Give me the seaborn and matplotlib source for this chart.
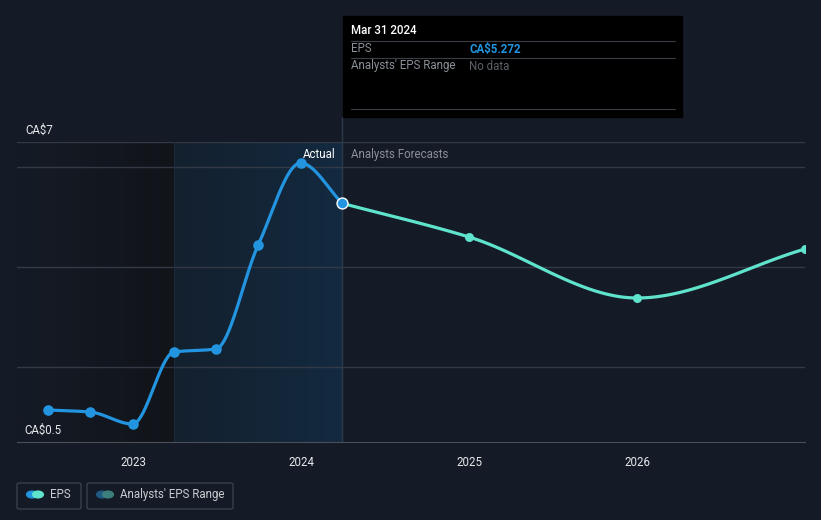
import numpy as np
import pandas as pd
import seaborn as sns
import matplotlib.pyplot as plt
import matplotlib.dates as mdates
from matplotlib.patches import Rectangle, FancyBboxPatch, Circle

# EPS actuals (quarterly) and analyst forecasts (annual)
actual_dates = ["2022-06-30", "2022-09-30", "2022-12-31", "2023-03-31",
                "2023-06-30", "2023-09-30", "2023-12-31", "2024-03-31"]
actual_eps = [1.14, 1.10, 0.86, 2.30, 2.36, 4.44, 6.08, 5.272]
forecast_dates = ["2024-03-31", "2024-12-31", "2025-12-31", "2026-12-31"]
forecast_eps = [5.272, 4.60, 3.38, 4.36]
year_ticks = ["2023", "2024", "2025", "2026"]

BG = "#151b26"
BLUE = "#2394df"
TEAL = "#5fe3cd"
GRID = "#343a45"


def monotone(x, y, n=40):
    # Fritsch-Carlson monotone cubic, just for drawing a smooth line
    x = np.asarray(x, float)
    y = np.asarray(y, float)
    h = np.diff(x)
    d = np.diff(y) / h
    m = np.zeros_like(y)
    m[0], m[-1] = d[0], d[-1]
    for i in range(1, len(y) - 1):
        if d[i - 1] * d[i] <= 0:
            m[i] = 0
        else:
            w1 = 2 * h[i] + h[i - 1]
            w2 = h[i] + 2 * h[i - 1]
            m[i] = (w1 + w2) / (w1 / d[i - 1] + w2 / d[i])
    xs, ys = [], []
    for i in range(len(h)):
        t = np.linspace(0, 1, n)
        h00 = 2 * t**3 - 3 * t**2 + 1
        h10 = t**3 - 2 * t**2 + t
        h01 = -2 * t**3 + 3 * t**2
        h11 = t**3 - t**2
        xs.append(x[i] + t * h[i])
        ys.append(h00 * y[i] + h10 * h[i] * m[i] + h01 * y[i + 1] + h11 * h[i] * m[i + 1])
    return np.concatenate(xs), np.concatenate(ys)


sns.set_style("dark")
plt.rcParams["font.family"] = ["Roboto", "DejaVu Sans"]

fig = plt.figure(figsize=(8.21, 5.2), dpi=100, facecolor=BG)
W, H = 821, 520
ax = fig.add_axes([17 / W, (H - 442) / H, (805 - 17) / W, 300 / H])
ax.set_facecolor(BG)

a_x = mdates.date2num(pd.to_datetime(actual_dates))
f_x = mdates.date2num(pd.to_datetime(forecast_dates))
x0 = mdates.date2num(pd.Timestamp("2022-04-24"))
x1 = mdates.date2num(pd.Timestamp("2026-12-31"))

# background bands (gradient via imshow)
left = np.linspace(0, 1, 64)[None, :]
ax.imshow(left, extent=[x0, a_x[3], 0.5, 6.5], aspect="auto", zorder=0,
          cmap=plt.matplotlib.colors.LinearSegmentedColormap.from_list("l", ["#151b26", "#111419"]))
ax.imshow(left, extent=[a_x[3], a_x[-1], 0.5, 6.5], aspect="auto", zorder=0,
          cmap=plt.matplotlib.colors.LinearSegmentedColormap.from_list("r", ["#14202e", "#132a40"]))
ax.axvline(a_x[3], color="#1a2b3c", lw=0.8, zorder=1)
ax.axvline(a_x[-1], ymax=1.083, color="#2b3a4c", lw=1, zorder=1, clip_on=False)

sx, sy = monotone(a_x, actual_eps)
fx, fy = monotone(f_x, forecast_eps)
sns.lineplot(x=fx, y=fy, ax=ax, color=TEAL, lw=2.3, sort=False, estimator=None, zorder=3)
sns.lineplot(x=sx, y=sy, ax=ax, color=BLUE, lw=2.3, sort=False, estimator=None, zorder=4)
sns.scatterplot(x=f_x[1:], y=forecast_eps[1:], ax=ax, color=TEAL, s=42, linewidth=0, zorder=5)
sns.scatterplot(x=a_x[:-1], y=actual_eps[:-1], ax=ax, color=BLUE, s=58, linewidth=0, zorder=6)
sns.scatterplot(x=a_x[-1:], y=actual_eps[-1:], ax=ax, color=BLUE, s=62,
                edgecolor="white", linewidth=1, zorder=7)

ax.set_xlim(x0, x1)
ax.set_ylim(0.5, 6.5)
ax.set_yticks([2, 4, 6, 6.5])
ax.set_yticklabels([])
ax.tick_params(axis="y", length=0)
ax.grid(axis="y", color=GRID, lw=1)
ax.grid(axis="x", visible=False)
ax.set_xticks(mdates.date2num(pd.to_datetime([y + "-01-01" for y in year_ticks])))
ax.set_xticklabels(year_ticks, color="#e6e8eb", fontsize=8.3)
ax.tick_params(axis="x", length=4, color=GRID, pad=6)
for s in ["top", "left", "right"]:
    ax.spines[s].set_visible(False)
ax.spines["bottom"].set_color("#4a505a")
ax.set_xlabel("")
ax.set_ylabel("")

fig.text(25 / W, 1 - 130 / H, "CA$7", color="#e6e8eb", fontsize=8.3, va="center")
fig.text(24 / W, 1 - 430 / H, "CA$0.5", color="#e6e8eb", fontsize=8.3, va="center")
fig.text(335 / W, 1 - 154 / H, "Actual", color="#ffffff", fontsize=8.3, va="center", ha="right")
fig.text(351 / W, 1 - 154 / H, "Analysts Forecasts", color="#8a8f98", fontsize=8.3, va="center")

# tooltip
fig.patches.append(Rectangle((343 / W, 1 - 117 / H), 339 / W, 101 / H,
                             transform=fig.transFigure, color="#000000", zorder=10))
for yy in [41, 58, 109]:
    fig.lines.append(plt.Line2D([351 / W, 675 / W], [1 - yy / H] * 2, transform=fig.transFigure,
                                color="#3a3f47", lw=0.8, zorder=11))
fig.text(351 / W, 1 - 31 / H, "Mar 31 2024", color="white", fontsize=8.3, va="center",
         fontweight="medium", zorder=12)
fig.text(351 / W, 1 - 49 / H, "EPS", color="#8a8f98", fontsize=8.3, va="center", zorder=12)
fig.text(469 / W, 1 - 49 / H, "CA$5.272", color=BLUE, fontsize=8.3, va="center",
         fontweight="bold", zorder=12)
fig.text(351 / W, 1 - 66 / H, "Analysts' EPS Range", color="#8a8f98", fontsize=8.3, va="center", zorder=12)
fig.text(469 / W, 1 - 66 / H, "No data", color="#5c616a", fontsize=8.3, va="center", zorder=12)

# legend
for (lx, lw, label, c1, c2) in [(17, 64, "EPS", BLUE, TEAL),
                                 (87, 146, "Analysts' EPS Range", "#1f5a84", "#3d7f7c")]:
    fig.patches.append(FancyBboxPatch((lx / W, 1 - 509 / H), lw / W, 26 / H,
                                      boxstyle="round,pad=0,rounding_size=0.003",
                                      transform=fig.transFigure, facecolor=BG,
                                      edgecolor="#3a404a", lw=1))
    cy = 1 - 494.5 / H
    fig.patches.append(Circle(((lx + 15) / W, cy), 0.0065, transform=fig.transFigure,
                              color=c1, zorder=5))
    fig.patches.append(Circle(((lx + 21) / W, cy), 0.0065, transform=fig.transFigure,
                              color=c2, zorder=6))
    fig.text((lx + 33) / W, cy, label, color="#c8ccd2", fontsize=8.3, va="center")

fig.savefig("out.png", dpi=100, facecolor=BG)
